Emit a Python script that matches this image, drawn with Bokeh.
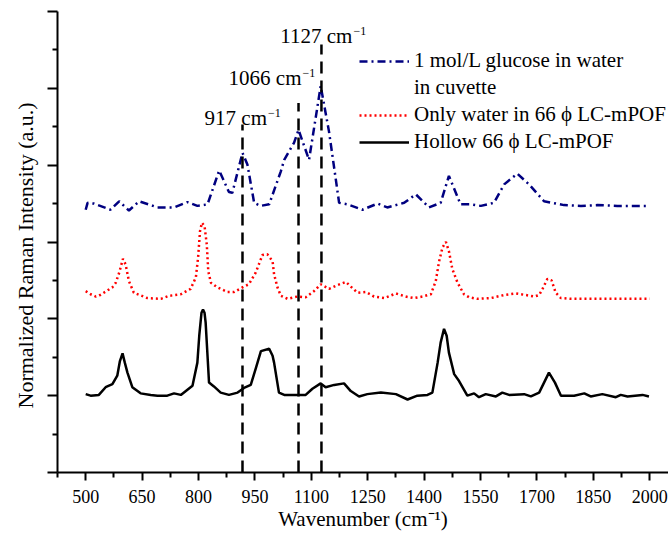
from bokeh.plotting import figure
from bokeh.models import Range1d, FixedTicker, Legend, LegendItem, Label, Title, CustomJSTickFormatter
from bokeh.embed import file_html
from bokeh.resources import INLINE

# ---- data ----
glucose_x = [500, 505, 522, 566, 589, 615, 642, 691, 735, 770,
             797, 824, 855, 881, 890, 917, 930, 948, 965, 988,
             1019, 1028, 1054, 1066, 1094, 1125, 1147, 1174, 1196, 1236,
             1276, 1302, 1347, 1378, 1413, 1444, 1466, 1497, 1524, 1551,
             1586, 1613, 1648, 1679, 1719, 1772, 1817, 1861, 1914, 1998]
glucose_y = [3.42, 3.51, 3.50, 3.42, 3.53, 3.41, 3.53, 3.45, 3.45, 3.52,
             3.47, 3.49, 3.93, 3.65, 3.64, 4.16, 4.01, 3.51, 3.47, 3.49,
             3.92, 4.07, 4.29, 4.46, 4.07, 5.03, 4.44, 3.51, 3.49, 3.42,
             3.50, 3.45, 3.51, 3.62, 3.45, 3.51, 3.86, 3.49, 3.49, 3.47,
             3.51, 3.75, 3.89, 3.75, 3.53, 3.48, 3.47, 3.48, 3.47, 3.47]

water_x = [500, 513, 527, 535, 558, 571, 580, 589, 599, 606,
           615, 628, 664, 700, 722, 753, 779, 793, 799, 804,
           809, 816, 822, 826, 833, 850, 877, 895, 921, 934,
           952, 970, 983, 997, 1001, 1010, 1019, 1037, 1063, 1085,
           1107, 1125, 1147, 1170, 1192, 1205, 1223, 1245, 1267, 1294,
           1325, 1351, 1373, 1396, 1418, 1431, 1440, 1449, 1458, 1466,
           1475, 1489, 1506, 1520, 1542, 1577, 1613, 1644, 1670, 1693,
           1706, 1715, 1728, 1739, 1750, 1764, 1790, 2000]
water_y = [2.36, 2.32, 2.29, 2.30, 2.37, 2.41, 2.47, 2.60, 2.78, 2.71,
           2.49, 2.34, 2.27, 2.26, 2.30, 2.32, 2.39, 2.54, 2.80, 3.14,
           3.25, 3.21, 2.97, 2.62, 2.47, 2.41, 2.35, 2.35, 2.42, 2.45,
           2.60, 2.83, 2.84, 2.75, 2.58, 2.41, 2.30, 2.26, 2.29, 2.28,
           2.36, 2.45, 2.39, 2.44, 2.48, 2.42, 2.34, 2.35, 2.29, 2.27,
           2.33, 2.29, 2.27, 2.29, 2.32, 2.49, 2.75, 2.93, 3.00, 2.88,
           2.65, 2.47, 2.32, 2.28, 2.26, 2.27, 2.31, 2.33, 2.31, 2.29,
           2.31, 2.39, 2.52, 2.50, 2.34, 2.27, 2.26, 2.26]

hollow_x = [500, 513, 535, 553, 571, 584, 591, 598, 604, 611,
            624, 646, 673, 691, 717, 735, 753, 784, 797, 802,
            808, 812, 816, 819, 824, 828, 841, 859, 881, 904,
            921, 939, 952, 966, 988, 997, 1001, 1014, 1028, 1054,
            1085, 1103, 1125, 1138, 1161, 1187, 1205, 1227, 1249, 1285,
            1325, 1356, 1382, 1409, 1422, 1436, 1444, 1453, 1460, 1466,
            1480, 1493, 1515, 1533, 1546, 1564, 1591, 1608, 1626, 1666,
            1684, 1706, 1720, 1732, 1748, 1764, 1799, 1826, 1843, 1874,
            1910, 1923, 1941, 1981, 1998]
hollow_y = [1.02, 1.00, 1.01, 1.11, 1.15, 1.26, 1.45, 1.55, 1.43, 1.30,
            1.11, 1.03, 1.01, 1.00, 1.00, 1.03, 1.01, 1.13, 1.43, 1.78,
            2.08, 2.12, 2.08, 1.95, 1.52, 1.17, 1.12, 1.04, 1.01, 1.04,
            1.10, 1.14, 1.35, 1.58, 1.61, 1.52, 1.43, 1.04, 1.01, 1.01,
            1.01, 1.09, 1.16, 1.11, 1.14, 1.16, 1.06, 0.99, 1.02, 1.04,
            1.02, 0.95, 1.00, 1.01, 1.04, 1.43, 1.69, 1.87, 1.78, 1.56,
            1.28, 1.19, 1.00, 1.03, 0.98, 1.02, 0.99, 1.04, 1.01, 1.02,
            0.99, 1.04, 1.18, 1.30, 1.17, 1.00, 1.00, 1.03, 0.99, 1.02,
            0.98, 1.01, 0.99, 1.01, 0.99]

peak_wavenumbers = [917, 1066, 1127]
peak_line_tops = [4.53, 4.81, 5.57]
peak_label_texts = ["917 cm", "1066 cm", "1127 cm"]
peak_label_levels = [4.61, 5.13, 5.68]

series_labels = ["1 mol/L glucose in water", "in cuvette",
                 "Only water in 66 \u03d5 LC-mPOF", "Hollow 66 \u03d5 LC-mPOF"]

x_title = "Wavenumber (cm\u207b\u00b9)"
y_title = "Normalized Raman Intensity (a.u.)"

x_major_ticks = [500, 650, 800, 950, 1100, 1250, 1400, 1550, 1700, 1850, 2000]
x_minor_ticks = [425, 575, 725, 875, 1025, 1175, 1325, 1475, 1625, 1775, 1925]
y_major_ticks = [0, 1, 2, 3, 4, 5, 6]
y_minor_ticks = [0.5, 1.5, 2.5, 3.5, 4.5, 5.5]

# ---- figure ----
FONT = "Liberation Serif"
W, H = 668, 535
X0, X1, Y0, Y1 = 425, 2050, 0, 6
p = figure(width=W, height=H, output_backend="svg", toolbar_location=None,
           x_range=Range1d(X0, X1), y_range=Range1d(Y0, Y1),
           min_border_left=57, min_border_right=0, min_border_top=11,
           min_border_bottom=63)
p.outline_line_color = None
p.grid.visible = False
p.background_fill_color = "white"
p.border_fill_color = "white"

xa = p.xaxis[0]
xa.ticker = FixedTicker(ticks=x_major_ticks, minor_ticks=x_minor_ticks)
xa.axis_label = x_title
xa.axis_label_text_font = FONT
xa.axis_label_text_font_style = "normal"
xa.axis_label_text_font_size = "21px"
xa.axis_label_text_color = "black"
xa.axis_label_standoff = 1
xa.major_label_text_font = FONT
xa.major_label_text_font_size = "18px"
xa.major_label_text_color = "black"
xa.major_label_standoff = 9
xa.major_tick_out = 8
xa.major_tick_in = 0
xa.minor_tick_out = 5
xa.minor_tick_in = 0
xa.axis_line_width = 2
xa.major_tick_line_width = 2
xa.minor_tick_line_width = 2

ya = p.yaxis[0]
ya.ticker = FixedTicker(ticks=y_major_ticks, minor_ticks=y_minor_ticks)
ya.formatter = CustomJSTickFormatter(code="return ''")
ya.major_label_standoff = 0
ya.major_tick_out = 10
ya.major_tick_in = 0
ya.minor_tick_out = 5
ya.minor_tick_in = 0
ya.axis_line_width = 2
ya.major_tick_line_width = 2
ya.minor_tick_line_width = 2

# y title as a side title (reference title sits below the frame centre)
p.add_layout(Title(text=y_title, align="left", offset=64, standoff=20,
                   text_font=FONT, text_font_size="22px",
                   text_font_style="normal", text_color="black"), "left")

r_glu = p.line(glucose_x, glucose_y, line_color="#000080", line_width=2.5,
               line_dash="8 4 2 4")
r_wat = p.line(water_x, water_y, line_color="#ff0000", line_width=2.5,
               line_dash="2 3")
r_hol = p.line(hollow_x, hollow_y, line_color="black", line_width=2.5)
r_blank = p.line(x=[], y=[], line_alpha=0)

p.segment(x0=peak_wavenumbers, y0=[0] * len(peak_wavenumbers),
          x1=peak_wavenumbers, y1=peak_line_tops,
          line_color="black", line_width=2.5, line_dash="12 7")

label_x_offsets = [24.5, 3, 31]
for xv, yv, txt, off in zip(peak_wavenumbers, peak_label_levels, peak_label_texts, label_x_offsets):
    p.add_layout(Label(x=xv, y=yv, x_offset=off, text=txt, text_align="right",
                       text_baseline="alphabetic", text_font=FONT,
                       text_font_size="21px", text_color="black"))
    p.add_layout(Label(x=xv, y=yv, x_offset=off + 1, y_offset=5, text="\u22121",
                       text_align="left", text_baseline="alphabetic",
                       text_font=FONT, text_font_size="12px", text_color="black"))

legend = Legend(items=[LegendItem(label=series_labels[0], renderers=[r_glu]),
                       LegendItem(label=series_labels[1], renderers=[r_blank]),
                       LegendItem(label=series_labels[2], renderers=[r_wat]),
                       LegendItem(label=series_labels[3], renderers=[r_hol])],
                location=(302, 318), orientation="vertical",
                glyph_width=50, glyph_height=20, label_standoff=5,
                label_text_font=FONT, label_text_font_size="21px",
                label_text_color="black", spacing=2, padding=0, margin=0,
                border_line_color=None, background_fill_alpha=0)
p.add_layout(legend)

open("out.html", "w").write(file_html(p, INLINE))
